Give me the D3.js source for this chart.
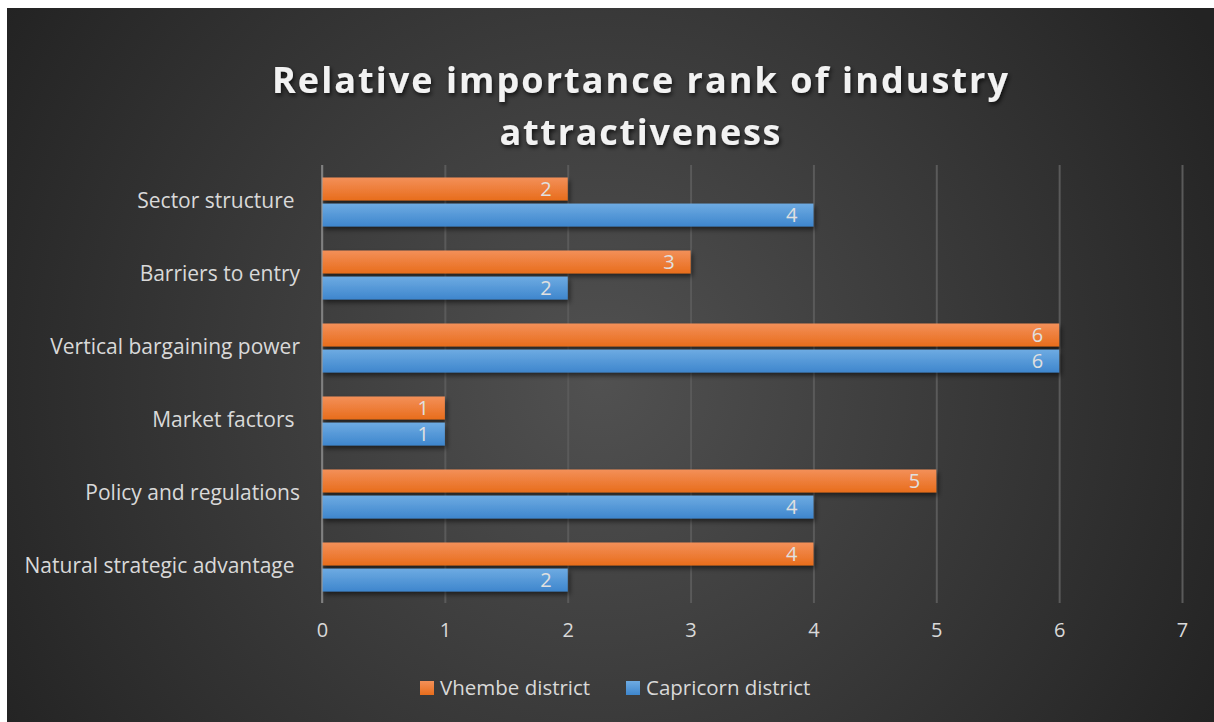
<!DOCTYPE html>
<html>
<head>
<meta charset="utf-8">
<script src="https://cdn.jsdelivr.net/npm/d3@7/dist/d3.min.js"></script>
<style>
  html, body { margin: 0; padding: 0; background: #ffffff; }
  svg { display: block; }
  text { font-family: "Open Sans", "DejaVu Sans", sans-serif; }
</style>
</head>
<body>
<script>
const categories = ["Sector structure ", "Barriers to entry", "Vertical bargaining power", "Market factors ", "Policy and regulations", "Natural strategic advantage "];
const seriesNames = ["Vhembe district", "Capricorn district"];
const vhembe = [2, 3, 6, 1, 5, 4];
const capricorn = [4, 2, 6, 1, 4, 2];
const xTicks = [0, 1, 2, 3, 4, 5, 6, 7];
const titleLines = ["Relative importance rank of industry", "attractiveness"];

const W = 1214, H = 722;
const svg = d3.select("body").append("svg").attr("width", W).attr("height", H);
const defs = svg.append("defs");

const bg = defs.append("radialGradient").attr("id", "bg")
  .attr("gradientUnits", "userSpaceOnUse").attr("cx", 600).attr("cy", 380).attr("r", 700);
bg.append("stop").attr("offset", "0%").attr("stop-color", "#515151");
bg.append("stop").attr("offset", "100%").attr("stop-color", "#232323");

function barGrad(id, c1, c2) {
  const g = defs.append("linearGradient").attr("id", id).attr("x1", 0).attr("y1", 0).attr("x2", 0).attr("y2", 1);
  g.append("stop").attr("offset", "0%").attr("stop-color", c1);
  g.append("stop").attr("offset", "100%").attr("stop-color", c2);
}
barGrad("gOrange", "#f39059", "#e86d1c");
barGrad("gBlue", "#6eabe2", "#3e86cd");

const sh = defs.append("filter").attr("id", "shadow").attr("x", "-10%").attr("y", "-30%").attr("width", "130%").attr("height", "180%");
sh.append("feDropShadow").attr("dx", 2).attr("dy", 3).attr("stdDeviation", 2.5).attr("flood-color", "#000").attr("flood-opacity", 0.55);

const tsh = defs.append("filter").attr("id", "tshadow").attr("x", "-5%").attr("y", "-30%").attr("width", "110%").attr("height", "170%");
tsh.append("feDropShadow").attr("dx", 1.5).attr("dy", 2.5).attr("stdDeviation", 2).attr("flood-color", "#000").attr("flood-opacity", 0.7);

svg.append("rect").attr("x", 7).attr("y", 8).attr("width", W - 7).attr("height", H - 8).attr("fill", "url(#bg)");

// Title
const title = svg.append("g").attr("filter", "url(#tshadow)");
const titleY = [93, 145];
const titleW = [736, 281];
titleLines.forEach((t, i) => {
  title.append("text").attr("x", 640).attr("y", titleY[i])
    .attr("text-anchor", "middle")
    .attr("font-size", 36).attr("font-weight", "bold")
    .attr("fill", "#f2f2f2")
    .attr("textLength", titleW[i]).attr("lengthAdjust", "spacing")
    .text(t);
});

// Scales
const x = d3.scaleLinear().domain([0, 7]).range([322, 1182]);
const y = d3.scaleBand().domain(categories).range([165, 603]).paddingInner(0).paddingOuter(0);
const bw = y.bandwidth();
const sub = d3.scaleBand().domain(seriesNames).range([12.5, bw - 11.5]).paddingInner(0.12).paddingOuter(0);

// Grid
const grid = svg.append("g")
  .attr("transform", `translate(0,603)`)
  .call(d3.axisBottom(x).tickValues(xTicks).tickSize(-(603 - 165)).tickFormat(d3.format("d")).tickPadding(20));
grid.select(".domain").remove();
grid.selectAll(".tick line").attr("stroke", "#5a5a5a").attr("stroke-width", 2);
grid.selectAll(".tick text").attr("fill", "#d9d9d9").attr("font-size", 20);

// Bars
const series = [
  { name: seriesNames[0], values: vhembe, fill: "url(#gOrange)" },
  { name: seriesNames[1], values: capricorn, fill: "url(#gBlue)" }
];
const barsG = svg.append("g");
series.forEach(s => {
  const g = barsG.append("g");
  g.selectAll("rect").data(categories).join("rect")
    .attr("x", x(0))
    .attr("y", c => y(c) + sub(s.name))
    .attr("width", (c, i) => x(s.values[i]) - x(0))
    .attr("height", sub.bandwidth())
    .attr("fill", s.fill)
    .attr("filter", "url(#shadow)");
  g.selectAll("text").data(categories).join("text")
    .attr("x", (c, i) => x(s.values[i]) - 16)
    .attr("y", c => y(c) + sub(s.name) + sub.bandwidth() / 2)
    .attr("dy", "0.36em")
    .attr("text-anchor", "end")
    .attr("font-size", 20)
    .attr("fill", "#e0e0e0")
    .text((c, i) => s.values[i]);
});
// zero line over bars
svg.append("line").attr("x1", x(0)).attr("x2", x(0)).attr("y1", 165).attr("y2", 603)
  .attr("stroke", "#9a9a9a").attr("stroke-width", 2).attr("opacity", 0.6);

// Category labels
const yAxis = svg.append("g").attr("transform", `translate(${x(0)},0)`)
  .call(d3.axisLeft(y).tickSize(0).tickPadding(22));
yAxis.select(".domain").remove();
yAxis.selectAll(".tick text").attr("fill", "#d9d9d9").attr("font-size", 21).style("white-space", "pre").attr("xml:space", "preserve");

// Legend
const legend = svg.append("g");
const legendX = [420, 626];
series.forEach((s, i) => {
  const g = legend.append("g").attr("transform", `translate(${legendX[i]},681)`);
  g.append("rect").attr("width", 14).attr("height", 14).attr("fill", s.fill);
  g.append("text").attr("x", 20).attr("y", 7).attr("dy", "0.36em")
    .attr("font-size", 20.5).attr("fill", "#d9d9d9").text(s.name);
});
</script>
</body>
</html>
